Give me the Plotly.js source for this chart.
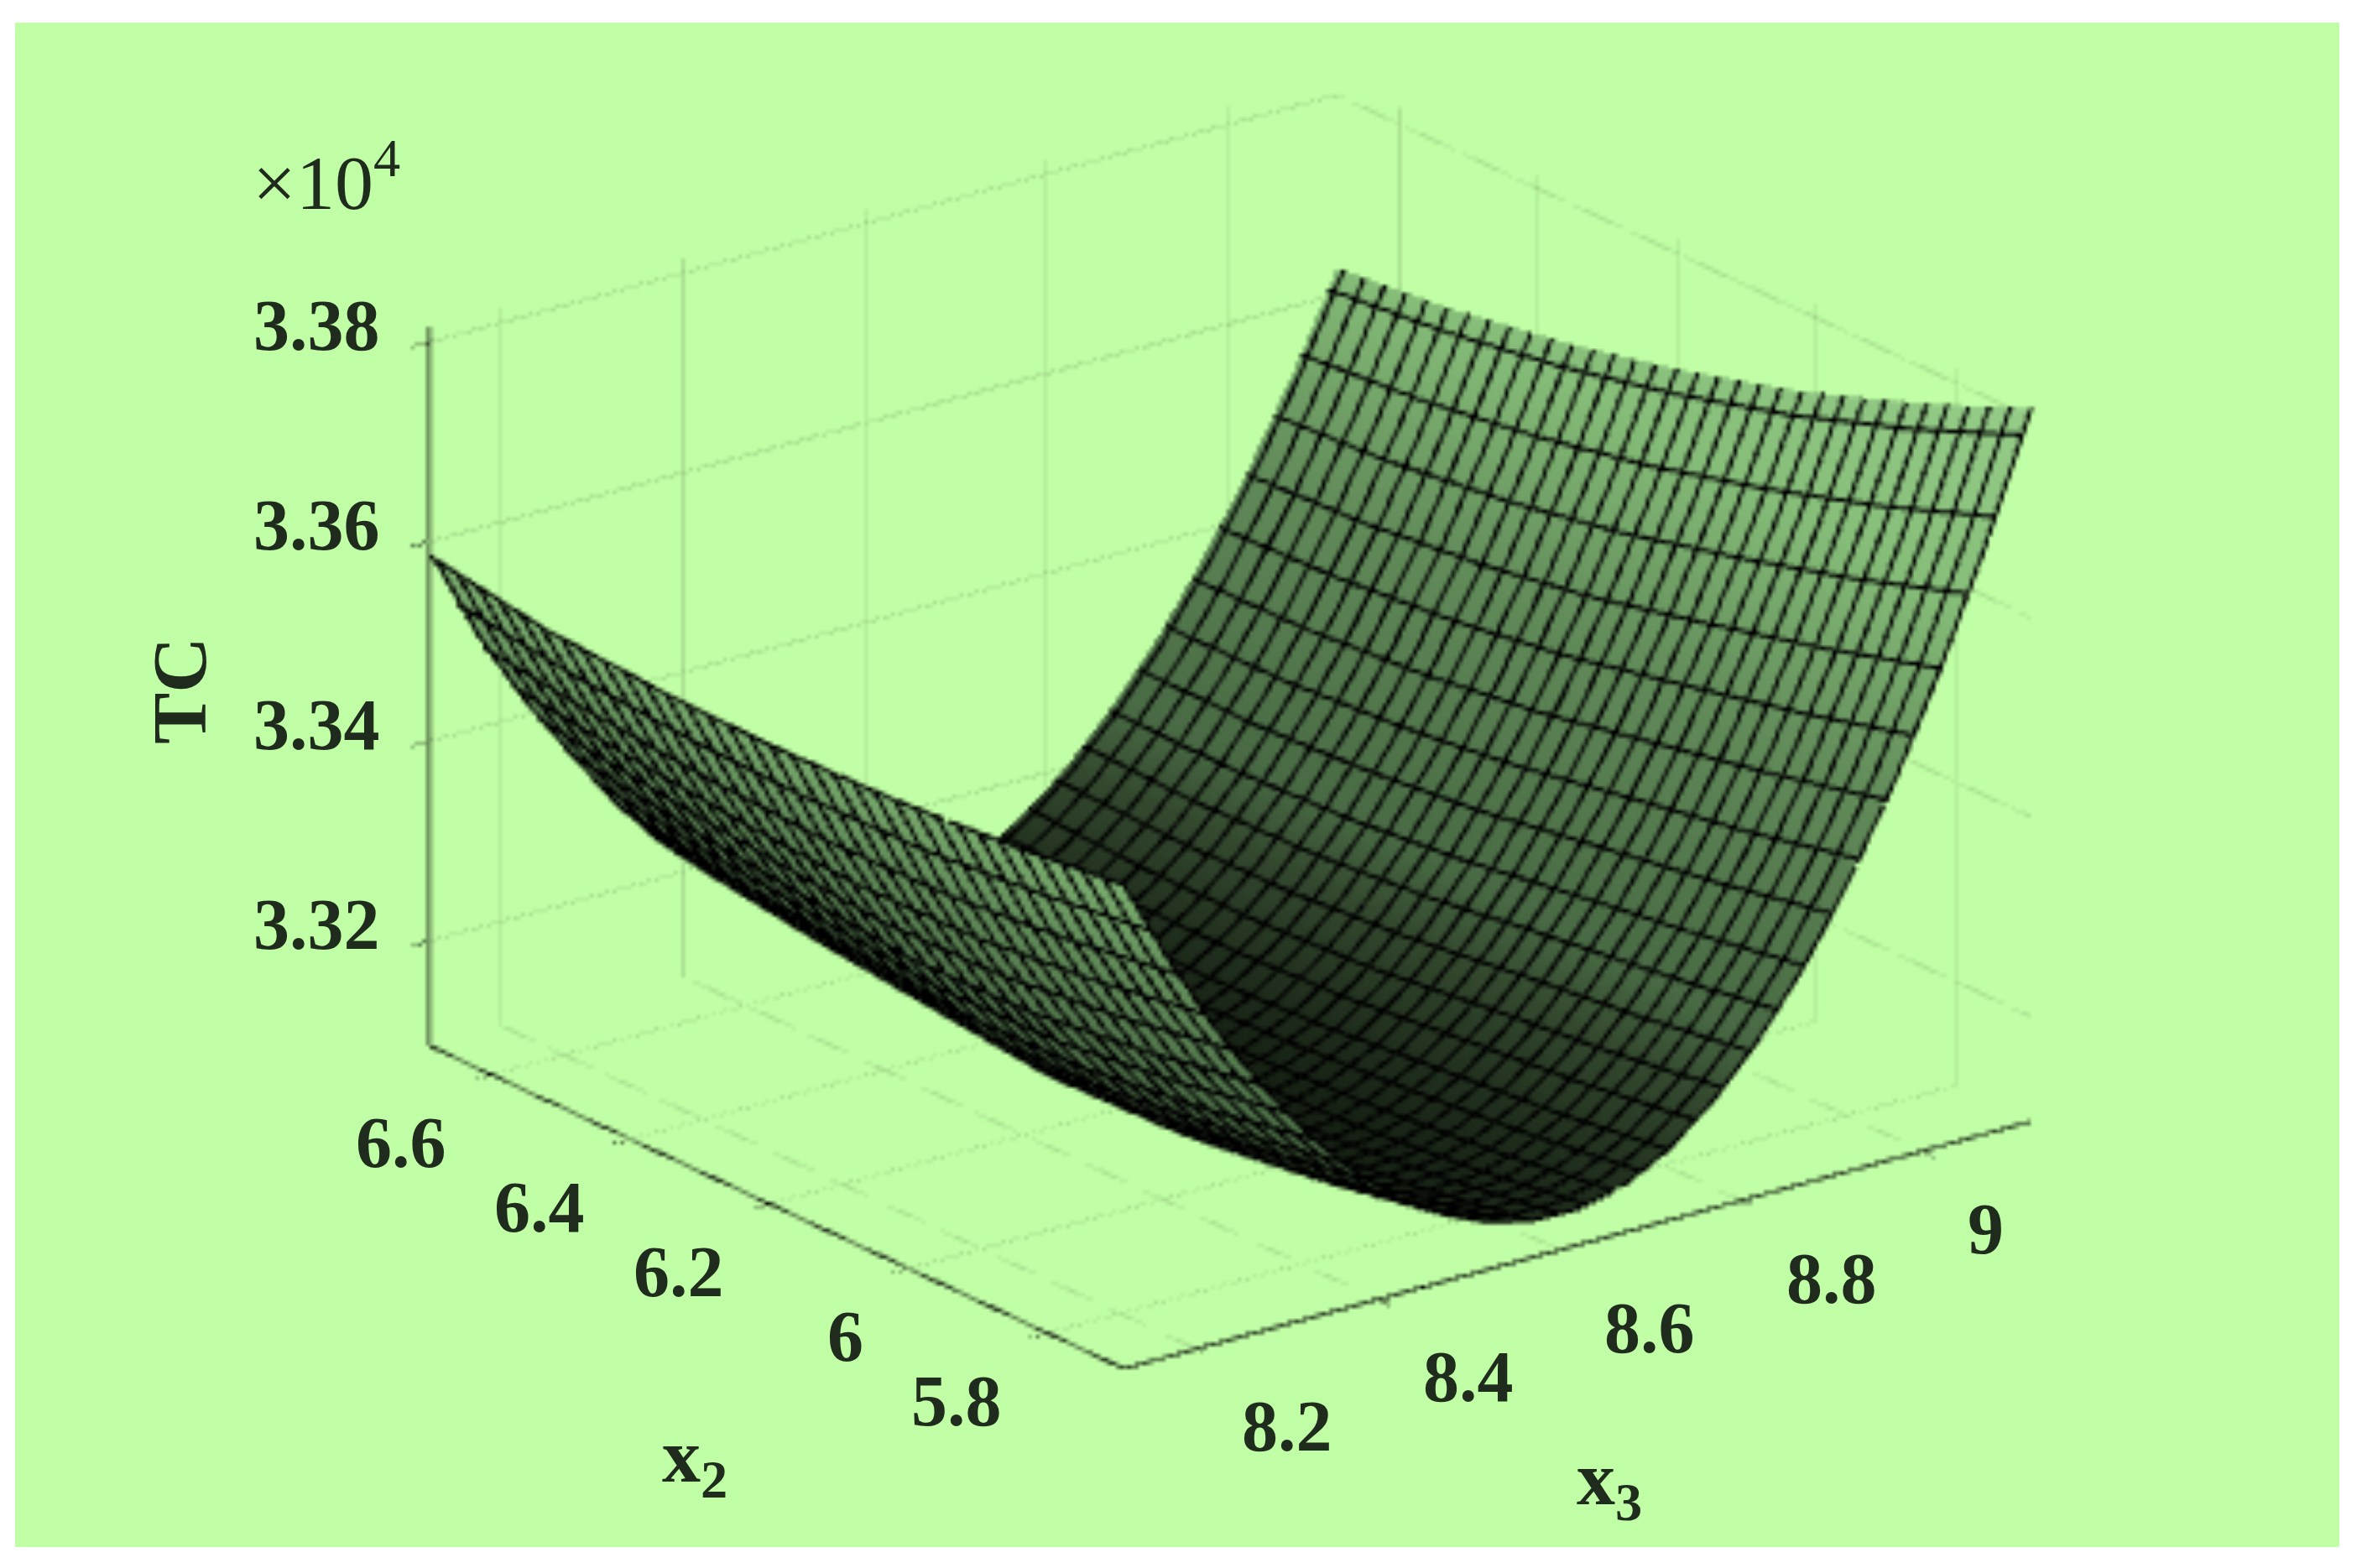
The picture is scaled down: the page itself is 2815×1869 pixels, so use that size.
<!DOCTYPE html>
<html>
<head>
<meta charset="utf-8">
<script src="https://cdn.plot.ly/plotly-3.0.1.min.js"></script>
<style>
html,body{margin:0;padding:0;background:#fff;width:2815px;height:1869px;overflow:hidden}
#chart{position:absolute;left:18px;top:27px;width:2770px;height:1817px}
</style>
</head>
<body>
<div id="chart"></div>
<script>
const x3Values = [8.12,8.17,8.22,8.27,8.32,8.37,8.42,8.47,8.52,8.57,8.62,8.67,8.72,8.77,8.82,8.87,8.92,8.97,9.02,9.07,9.12];
const x2Values = [5.69,5.85,6.02,6.19,6.35,6.52,6.69];
const tcAtX2_569 = [3.3580,3.3491,3.3412,3.3343,3.3283,3.3233,3.3193,3.3163,3.3143,3.3132,3.3131,3.3142,3.3166,3.3203,3.3252,3.3313,3.3388,3.3474,3.3574,3.3686,3.3810];
const tcAtX2_585 = [3.3567,3.3475,3.3394,3.3323,3.3262,3.3212,3.3172,3.3142,3.3122,3.3113,3.3114,3.3127,3.3151,3.3187,3.3235,3.3294,3.3364,3.3447,3.3541,3.3646,3.3763];
const tcAtX2_602 = [3.3558,3.3464,3.3381,3.3308,3.3247,3.3196,3.3156,3.3126,3.3107,3.3100,3.3102,3.3116,3.3140,3.3175,3.3221,3.3277,3.3344,3.3422,3.3511,3.3610,3.3720];
const tcAtX2_619 = [3.3555,3.3462,3.3379,3.3306,3.3245,3.3193,3.3153,3.3122,3.3105,3.3098,3.3098,3.3109,3.3129,3.3161,3.3205,3.3259,3.3323,3.3398,3.3483,3.3579,3.3686];
const tcAtX2_635 = [3.3558,3.3467,3.3388,3.3319,3.3258,3.3207,3.3166,3.3134,3.3112,3.3101,3.3099,3.3105,3.3124,3.3155,3.3196,3.3248,3.3310,3.3382,3.3464,3.3557,3.3660];
const tcAtX2_652 = [3.3566,3.3478,3.3402,3.3335,3.3273,3.3222,3.3180,3.3145,3.3122,3.3106,3.3102,3.3108,3.3126,3.3155,3.3194,3.3243,3.3302,3.3372,3.3451,3.3540,3.3640];
const tcAtX2_669 = [3.3586,3.3494,3.3419,3.3354,3.3292,3.3240,3.3198,3.3163,3.3138,3.3122,3.3115,3.3118,3.3135,3.3162,3.3199,3.3246,3.3302,3.3369,3.3445,3.3531,3.3627];
const tcMatrix = [tcAtX2_569,tcAtX2_585,tcAtX2_602,tcAtX2_619,tcAtX2_635,tcAtX2_652,tcAtX2_669];
const x3Ticks = [8.2,8.4,8.6,8.8,9];
const x3TickLabels = ['8.2','8.4','8.6','8.8','9'];
const x2Ticks = [5.8,6,6.2,6.4,6.6];
const x2TickLabels = ['5.8','6','6.2','6.4','6.6'];
const tcTicks = [3.32,3.34,3.36,3.38];
const tcTickLabels = ['3.32','3.34','3.36','3.38'];

const ink = '#1f2b1c';
const serif = 'Liberation Serif';
const tickFont = {family:serif,size:86,color:ink,weight:'bold'};
const titleFont = {family:serif,size:92,color:ink,weight:'bold'};
const x3Range = [8.12,9.12], x2Range = [5.69,6.69], tcRange = [3.3095,3.3815];
function axis(vals,range,lineColor){
  return {
    title:{text:''},
    range:range,tickmode:'array',tickvals:vals,showticklabels:false,
    ticks:'outside',ticklen:26,tickwidth:3,tickcolor:'#000',
    showline:true,linecolor:lineColor,linewidth:6,
    showgrid:true,gridcolor:'#93c27d',gridwidth:3,
    zeroline:false,showbackground:false,showspikes:false,autorange:false
  };
}
function tickNote(text,x,y,z,xanchor,xshift,yshift){
  return {x:x,y:y,z:z,text:text,showarrow:false,xanchor:xanchor,yanchor:'middle',xshift:xshift,yshift:yshift,font:tickFont};
}
const sceneNotes = []
  .concat(tcTicks.map((v,i)=>tickNote(tcTickLabels[i],x3Range[0],x2Range[1],v,'center',-134,20)))
  .concat(x2Ticks.map((v,i)=>tickNote(x2TickLabels[i],x3Range[0],v,tcRange[0],'right',-52,-80)))
  .concat(x3Ticks.map((v,i)=>tickNote(x3TickLabels[i],v,x2Range[0],tcRange[0],'left',52,-92)));
const trace = {
  type:'surface',x:x3Values,y:x2Values,z:tcMatrix,
  showscale:false,hoverinfo:'skip',
  cmin:3.3095,cmax:3.3815,
  colorscale:[[0,'#141e12'],[0.146,'#34492f'],[0.215,'#496a44'],[0.5,'#628c5a'],[0.743,'#86bd79'],[1,'#96cd89']],
  lighting:{ambient:1,diffuse:0,specular:0,roughness:1,fresnel:0},
  contours:{
    x:{show:true,start:8.12,end:9.12,size:0.03,color:'#000',width:2,usecolormap:false},
    y:{show:true,start:5.69,end:6.69,size:0.03,color:'#000',width:2,usecolormap:false},
    z:{show:false}
  }
};
const layout = {
  width:2770,height:1817,
  margin:{l:0,r:0,t:0,b:0},
  paper_bgcolor:'#c0ffa5',
  showlegend:false,
  scene:{
    domain:{x:[0.0455,1],y:[0.079,1]},
    bgcolor:'rgba(0,0,0,0)',
    aspectmode:'manual',aspectratio:{x:1.625,y:1.625,z:1.096},
    camera:{
      projection:{type:'orthographic'},
      up:{x:0,y:0,z:1},center:{x:0,y:0,z:0},
      eye:{x:-0.699,y:-0.913,z:0.439}
    },
    xaxis:axis(x3Ticks,x3Range,'#000000'),
    yaxis:axis(x2Ticks,x2Range,'#000000'),
    zaxis:axis(tcTicks,tcRange,'#1f2b1c'),
    annotations:sceneNotes
  },
  annotations:[
    {xref:'paper',yref:'paper',x:0.134,y:0.899,xanchor:'center',yanchor:'middle',showarrow:false,text:'×10<sup>4</sup>',font:{family:serif,size:92,color:ink}},
    {xref:'paper',yref:'paper',x:(828-18)/2770,y:1-(1741-27)/1817,xanchor:'center',yanchor:'middle',showarrow:false,text:'x<sub>2</sub>',font:titleFont},
    {xref:'paper',yref:'paper',x:(1918-18)/2770,y:1-(1768-27)/1817,xanchor:'center',yanchor:'middle',showarrow:false,text:'x<sub>3</sub>',font:titleFont},
    {xref:'paper',yref:'paper',x:(214-18)/2770,y:1-(823-27)/1817,xanchor:'center',yanchor:'middle',showarrow:false,text:'TC',textangle:-90,font:titleFont}
  ]
};
Plotly.newPlot('chart',[trace],layout,{displayModeBar:false,plotGlPixelRatio:0.22});
</script>
</body>
</html>
